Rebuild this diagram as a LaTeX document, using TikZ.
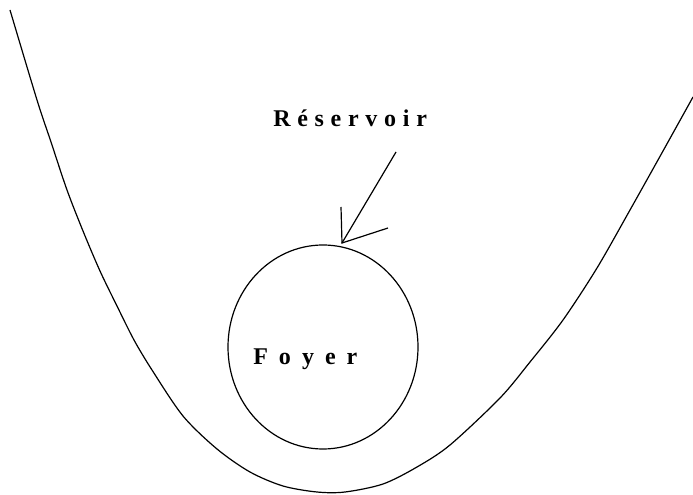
\documentclass[tikz,border=0pt]{standalone}
\usepackage{fontspec}
\usetikzlibrary{shapes.geometric}
\setmainfont{Liberation Serif}
\begin{document}
\begin{tikzpicture}[x=0.75pt,y=-0.75pt,
  line/.style={line width=0.9pt,black},
  lbl/.style={inner sep=0pt,anchor=base west,font=\bfseries\fontsize{18}{20}\selectfont}]
\useasboundingbox (0,0) rectangle (693,495);
% valley curve
\draw[line] plot[smooth,tension=0.5] coordinates {(10,10) (37,100) (51,142) (67,190) (83,231) (100,271) (117,306) (134,340) (152,370) (183,416) (217,449) (250,472) (283,486) (317,492) (345,492) (383,484) (417,467) (450,445) (500,398) (530,362) (563,320) (597,268) (630,210) (663,151) (693,97)};
% foyer circle
\node[draw,line width=0.9pt,ellipse,minimum width=142.5pt,minimum height=153pt,inner sep=0pt] (c) at (323,347) {};
\node[lbl] (foyer) at (253,365) {\addfontfeatures{LetterSpace=46}Foyer};
\node[lbl] (res) at (273,127) {\addfontfeatures{LetterSpace=28}Réservoir};
% arrow
\coordinate (a0) at (396,152);
\coordinate (tip) at (342,243);
\coordinate (h1) at (341,207);
\coordinate (h2) at (388,228);
\draw[line] (a0) -- (tip);
\draw[line] (h1) -- (tip) -- (h2);
\end{tikzpicture}
\end{document}
